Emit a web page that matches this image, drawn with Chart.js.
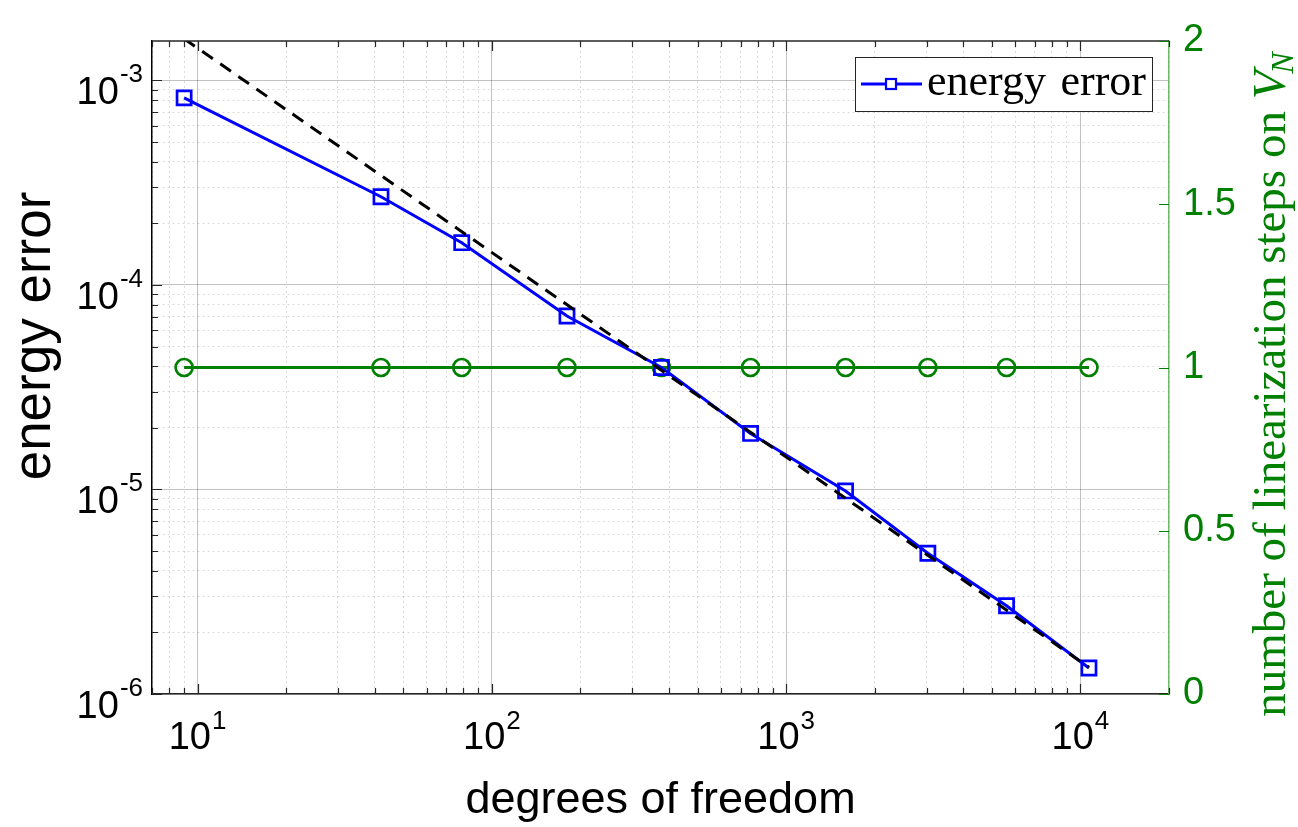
<!DOCTYPE html>
<html><head><meta charset="utf-8">
<script src="https://cdn.jsdelivr.net/npm/chart.js@4/dist/chart.umd.min.js"></script>
<style>html,body{margin:0;padding:0;background:#fff;} canvas{display:block;}</style>
</head><body>
<canvas id="c" width="1298" height="827"></canvas>
<script>
// ---- data ----
const dofs = [9, 42, 79, 180, 377, 757, 1592, 3031, 5610, 10690];
const energyError = [8.22e-4, 2.70e-4, 1.61e-4, 7.05e-5, 3.95e-5, 1.88e-5, 9.84e-6, 4.88e-6, 2.70e-6, 1.34e-6];
const linSteps = [1, 1, 1, 1, 1, 1, 1, 1, 1, 1];
const refDofs = [9, 10690];
const refError = [1.60e-3, 1.35e-6];
const xDecadeExps = [1, 2, 3, 4];
const yDecadeExps = [-3, -4, -5, -6];
const rightTicks = [0, 0.5, 1, 1.5, 2];
const xTitle = 'degrees of freedom';
const yTitle = 'energy error';
const y1Title = 'number of linearization steps on ';
const legendLabel = 'energy error';

const SANS = '"Liberation Sans", Arial, sans-serif';
const SERIF = '"Liberation Serif", "Times New Roman", serif';
const GREEN = '#008000';
const BLUE = '#0000ff';

function logTicks(min, max) {
  const t = [];
  for (let e = Math.floor(Math.log10(min)) - 1; e <= Math.ceil(Math.log10(max)); e++) {
    for (let m = 1; m <= 9; m++) {
      const v = m * Math.pow(10, e);
      if (v >= min * 0.9999 && v <= max * 1.0001) t.push({ value: v, major: m === 1 });
    }
  }
  return t;
}

const gridColor = c => (c.tick && c.tick.major) ? 'rgba(0,0,0,0.24)' : 'rgba(0,0,0,0.14)';
const gridDash = c => (c.tick && !c.tick.major) ? [2, 3] : [];

function drawPow(ctx, x, baseY, supY, exp, align) {
  const base = '10', sup = String(exp);
  ctx.font = '38px ' + SANS;
  const wb = ctx.measureText(base).width;
  ctx.font = '26px ' + SANS;
  const ws = ctx.measureText(sup).width;
  const total = wb + ws + 1;
  let x0 = align === 'center' ? x - total / 2 : x - total;
  ctx.textAlign = 'left';
  ctx.textBaseline = 'alphabetic';
  ctx.fillStyle = '#000';
  ctx.font = '38px ' + SANS;
  ctx.fillText(base, x0, baseY);
  ctx.font = '26px ' + SANS;
  ctx.fillText(sup, x0 + wb + 1, supY);
}

const overlay = {
  id: 'overlay',
  afterDraw(chart) {
    const { ctx, chartArea: a, scales } = chart;
    const xs = scales.x, ys = scales.y, yr = scales.y1;
    ctx.save();
    // top border
    ctx.strokeStyle = '#262626'; ctx.lineWidth = 1.5; ctx.setLineDash([]);
    ctx.beginPath(); ctx.moveTo(a.left, a.top); ctx.lineTo(a.right, a.top); ctx.stroke();
    // inward tick marks
    ctx.lineWidth = 1.2;
    ctx.beginPath();
    xs.ticks.forEach(t => {
      const px = Math.round(xs.getPixelForValue(t.value)) + 0.5;
      const L = t.major ? 10 : 6;
      ctx.moveTo(px, a.bottom); ctx.lineTo(px, a.bottom - L);
      ctx.moveTo(px, a.top); ctx.lineTo(px, a.top + L);
    });
    ys.ticks.forEach(t => {
      const py = Math.round(ys.getPixelForValue(t.value)) + 0.5;
      const L = t.major ? 10 : 6;
      ctx.moveTo(a.left, py); ctx.lineTo(a.left + L, py);
    });
    ctx.stroke();
    ctx.strokeStyle = GREEN;
    ctx.beginPath();
    rightTicks.forEach(v => {
      const py = Math.round(yr.getPixelForValue(v)) + 0.5;
      ctx.moveTo(a.right, py); ctx.lineTo(a.right - 10, py);
    });
    ctx.stroke();

    // tick labels with superscripts
    xDecadeExps.forEach(e => {
      const px = xs.getPixelForValue(Math.pow(10, e));
      drawPow(ctx, px, 749, 729, e, 'center');
    });
    yDecadeExps.forEach(e => {
      const py = ys.getPixelForValue(Math.pow(10, e));
      drawPow(ctx, 143, py + 24, py + 2, e, 'right');
    });

    // axis titles
    ctx.fillStyle = '#000';
    ctx.textAlign = 'center';
    ctx.textBaseline = 'alphabetic';
    ctx.font = '45px ' + SANS;
    ctx.fillText(xTitle, (a.left + a.right) / 2, 813);

    ctx.save();
    ctx.translate(50, 336);
    ctx.rotate(-Math.PI / 2);
    ctx.font = '53px ' + SANS;
    ctx.fillText(yTitle, 0, 0);
    ctx.restore();

    // right title (reads bottom to top)
    ctx.save();
    ctx.translate(1285, 383);
    ctx.rotate(-Math.PI / 2);
    ctx.fillStyle = GREEN;
    ctx.textAlign = 'left';
    ctx.font = '47px ' + SERIF;
    const w1 = ctx.measureText(y1Title).width;
    ctx.font = 'italic 47px ' + SERIF;
    const wV = ctx.measureText('V').width;
    ctx.font = 'italic 32px ' + SERIF;
    const wN = ctx.measureText('N').width;
    let sx = -(w1 + wV + wN) / 2;
    ctx.font = '47px ' + SERIF;
    ctx.fillText(y1Title, sx, 0);
    ctx.font = 'italic 47px ' + SERIF;
    ctx.fillText('V', sx + w1, 0);
    ctx.font = 'italic 32px ' + SERIF;
    ctx.fillText('N', sx + w1 + wV - 3, 8);
    ctx.restore();

    // legend
    const lx = 855, ly = 57, lw = 297, lh = 54;
    ctx.fillStyle = '#fff';
    ctx.fillRect(lx, ly, lw, lh);
    ctx.strokeStyle = '#262626'; ctx.lineWidth = 1;
    ctx.strokeRect(lx + 0.5, ly + 0.5, lw, lh);
    ctx.strokeStyle = BLUE; ctx.lineWidth = 2.8;
    ctx.beginPath(); ctx.moveTo(861, 84); ctx.lineTo(922, 84); ctx.stroke();
    ctx.fillStyle = '#fff';
    ctx.fillRect(886, 79, 10, 10);
    ctx.lineWidth = 2.2;
    ctx.strokeRect(886, 79, 10, 10);
    ctx.fillStyle = '#000';
    ctx.textAlign = 'left';
    ctx.font = '44px ' + SERIF;
    ctx.fillText('energy', 927, 95);
    ctx.fillText('error', 1146 - ctx.measureText('error').width, 95);
    ctx.restore();
  }
};

const toXY = (xsArr, ysArr) => xsArr.map((x, i) => ({ x: x, y: ysArr[i] }));

new Chart(document.getElementById('c'), {
  type: 'line',
  data: {
    datasets: [
      {
        label: 'reference',
        data: toXY(refDofs, refError),
        yAxisID: 'y',
        borderColor: '#000',
        borderWidth: 3,
        borderDash: [13, 9],
        pointRadius: 0,
        fill: false
      },
      {
        label: legendLabel,
        data: toXY(dofs, energyError),
        yAxisID: 'y',
        borderColor: BLUE,
        borderWidth: 3,
        pointStyle: 'rect',
        pointRadius: 10,
        pointBorderWidth: 2.7,
        pointBorderColor: BLUE,
        pointBackgroundColor: 'rgba(0,0,0,0)',
        fill: false
      },
      {
        label: 'linearization steps',
        data: toXY(dofs, linSteps),
        yAxisID: 'y1',
        borderColor: GREEN,
        borderWidth: 3.2,
        pointStyle: 'circle',
        pointRadius: 8.5,
        pointBorderWidth: 2.7,
        pointBorderColor: GREEN,
        pointBackgroundColor: 'rgba(0,0,0,0)',
        fill: false
      }
    ]
  },
  options: {
    responsive: false,
    animation: false,
    devicePixelRatio: 1,
    layout: { padding: { top: 41, left: 0, right: 0, bottom: 0 } },
    plugins: { legend: { display: false }, tooltip: { enabled: false } },
    elements: { line: { tension: 0 } },
    scales: {
      x: {
        type: 'logarithmic',
        position: 'bottom',
        min: 7, max: 20000,
        afterBuildTicks: s => { s.ticks = logTicks(7, 20000); },
        afterFit: s => { s.height = 133; },
        ticks: { display: false },
        grid: { color: gridColor, lineWidth: 1, drawTicks: false },
        border: { display: true, color: '#262626', width: 1.5, dash: gridDash }
      },
      y: {
        type: 'logarithmic',
        position: 'left',
        min: 1e-6, max: 1.56e-3,
        afterBuildTicks: s => { s.ticks = logTicks(1e-6, 1.56e-3); },
        afterFit: s => { s.width = 152; },
        ticks: { display: false },
        grid: { color: gridColor, lineWidth: 1, drawTicks: false },
        border: { display: true, color: '#000', width: 1.5, dash: gridDash }
      },
      y1: {
        type: 'linear',
        position: 'right',
        min: 0, max: 2,
        afterBuildTicks: s => { s.ticks = rightTicks.map(v => ({ value: v })); },
        afterFit: s => { s.width = 129; },
        ticks: {
          color: GREEN,
          font: { family: SANS, size: 38 },
          padding: 14,
          callback: v => String(v)
        },
        grid: { drawOnChartArea: false, drawTicks: false },
        border: { display: true, color: '#6fb96f', width: 1.5 }
      }
    }
  },
  plugins: [overlay]
});
</script>
</body></html>
